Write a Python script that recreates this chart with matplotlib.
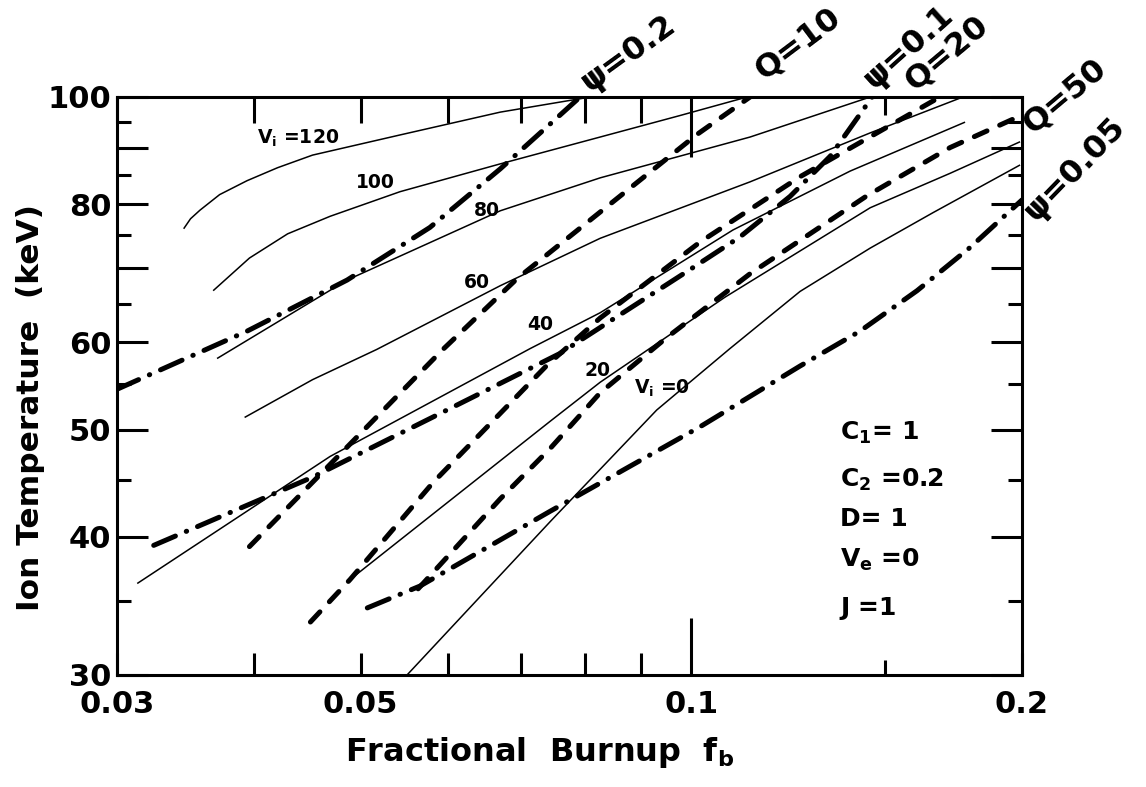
import matplotlib
matplotlib.use("Agg")
import matplotlib.pyplot as plt
from matplotlib.ticker import FixedLocator, NullFormatter, FixedFormatter

# ---------------- data ----------------
# Solid curves: constant V_i
v120_x = [0.0345, 0.0350, 0.0357, 0.0372, 0.0394, 0.0420, 0.0452, 0.0543, 0.0670, 0.0809]
v120_y = [76.0, 77.6, 79.0, 81.6, 84.0, 86.3, 88.6, 92.4, 96.9, 100.0]
v100_x = [0.0367, 0.0396, 0.0429, 0.0469, 0.0543, 0.0670, 0.0826, 0.0976, 0.1124]
v100_y = [66.8, 71.5, 75.2, 78.0, 82.1, 87.0, 92.0, 96.2, 100.0]
v80_x = [0.0370, 0.0486, 0.0670, 0.0826, 0.1131, 0.1455]
v80_y = [58.0, 68.3, 78.9, 84.5, 92.0, 100.0]
v60_x = [0.0392, 0.0452, 0.0517, 0.0670, 0.0826, 0.1131, 0.1455, 0.1767]
v60_y = [51.3, 55.5, 59.1, 67.5, 74.5, 83.8, 92.8, 100.0]
v40_x = [0.0313, 0.0469, 0.0713, 0.0826, 0.1091, 0.1395, 0.1775]
v40_y = [36.3, 47.3, 59.2, 63.8, 75.8, 85.7, 94.9]
v20_x = [0.0489, 0.0744, 0.0826, 0.1073, 0.1455, 0.1720, 0.1992]
v20_y = [36.6, 50.9, 55.2, 65.9, 79.4, 85.3, 91.1]
v0_x = [0.0551, 0.0744, 0.0930, 0.1084, 0.1256, 0.1455, 0.1660, 0.1992]
v0_y = [30.0, 41.3, 52.1, 59.2, 66.7, 73.0, 78.6, 86.8]

# Dashed curves: constant Q
q10_x = [0.0396, 0.0594, 0.0694, 0.1012, 0.1131]
q10_y = [39.2, 59.1, 68.5, 92.5, 100.0]
q20_x = [0.0450, 0.0489, 0.0582, 0.0739, 0.0826, 0.1018, 0.1256, 0.1684]
q20_y = [33.5, 36.6, 44.8, 57.2, 63.1, 73.9, 84.7, 100.0]
q50_x = [0.0564, 0.0670, 0.0744, 0.0826, 0.0950, 0.1131, 0.1445, 0.1720, 0.2000]
q50_y = [35.9, 43.3, 48.1, 54.0, 60.6, 69.2, 81.4, 90.0, 96.3]

# Dash-dot curves: constant psi
psi02_x = [0.0300, 0.0394, 0.0486, 0.0578, 0.0670, 0.0792]
psi02_y = [54.4, 61.4, 68.3, 76.2, 86.1, 100.0]
psi01_x = [0.0324, 0.0452, 0.0590, 0.0759, 0.0997, 0.1107, 0.1230, 0.1338, 0.1461]
psi01_y = [39.3, 45.3, 51.7, 58.6, 69.8, 74.7, 81.3, 88.4, 100.0]
psi005_x = [0.0507, 0.0566, 0.0744, 0.1018, 0.1256, 0.1424, 0.1605, 0.1794, 0.2000]
psi005_y = [34.5, 36.1, 42.2, 50.3, 57.1, 61.4, 66.8, 73.1, 80.7]

x_ticks = [0.03, 0.04, 0.05, 0.06, 0.07, 0.08, 0.09, 0.1, 0.15, 0.2]
x_tick_labels = ["0.03", "", "0.05", "", "", "", "", "0.1", "", "0.2"]
y_major = [30, 40, 50, 60, 70, 80, 90, 100]
y_major_labels = ["30", "40", "50", "60", "", "80", "", "100"]
y_minor = [35, 45, 55, 65, 75, 85, 95]

# ---------------- figure ----------------
plt.rcParams["font.family"] = ["DejaVu Sans"]
plt.rcParams["font.weight"] = "bold"
plt.rcParams["lines.scale_dashes"] = False

W, H = 1146, 787
fig = plt.figure(figsize=(W / 100, H / 100), dpi=100)
ax = fig.add_axes([117 / W, 1 - 675 / H, 905 / W, 578 / H])
ax.set_xscale("log")
ax.set_yscale("log")
ax.set_xlim(0.03, 0.2)
ax.set_ylim(30, 100)

thin = dict(color="black", lw=1.1, solid_capstyle="butt", solid_joinstyle="round")
dash = dict(color="black", lw=3.6, linestyle=(0, (10, 10)), dash_capstyle="round")
dashdot = dict(color="black", lw=3.6, linestyle=(0, (17, 8.5, 0.3, 8.5)),
               dash_capstyle="round")

for xs, ys in [(v120_x, v120_y), (v100_x, v100_y), (v80_x, v80_y), (v60_x, v60_y),
               (v40_x, v40_y), (v20_x, v20_y), (v0_x, v0_y)]:
    ax.plot(xs, ys, **thin)
for xs, ys in [(q10_x, q10_y), (q20_x, q20_y), (q50_x, q50_y)]:
    ax.plot(xs, ys, **dash)
for xs, ys in [(psi02_x, psi02_y), (psi01_x, psi01_y), (psi005_x, psi005_y)]:
    ax.plot(xs, ys, **dashdot)

# axes frame and ticks
for s in ax.spines.values():
    s.set_linewidth(2.2)

ax.xaxis.set_major_locator(FixedLocator(x_ticks))
ax.xaxis.set_major_formatter(FixedFormatter(x_tick_labels))
ax.xaxis.set_minor_locator(FixedLocator([]))
ax.xaxis.set_minor_formatter(NullFormatter())
ax.yaxis.set_major_locator(FixedLocator(y_major))
ax.yaxis.set_major_formatter(FixedFormatter(y_major_labels))
ax.yaxis.set_minor_locator(FixedLocator(y_minor))
ax.yaxis.set_minor_formatter(NullFormatter())

ax.tick_params(axis="both", which="both", direction="in", top=True, right=True,
               width=2.2, labelsize=22)
ax.tick_params(axis="y", which="major", length=22, pad=4)
ax.tick_params(axis="y", which="minor", length=10)
ax.tick_params(axis="x", which="major", length=16, pad=11)

for t, v in zip(ax.xaxis.get_major_ticks(), x_ticks):
    if v == 0.1:
        t.tick1line.set_markersize(41)
        t.tick2line.set_markersize(43)
    elif v == 0.15:
        t.tick1line.set_markersize(11)
        t.tick2line.set_markersize(13)
    else:
        t.tick2line.set_markersize(19)

for lab in ax.get_xticklabels() + ax.get_yticklabels():
    lab.set_fontweight("bold")

# axis titles
fig.text(31 / W, 1 - 408 / H, "Ion Temperature  (keV)", rotation=90,
         ha="center", va="center", fontsize=22.5, fontweight="bold")
fig.text(540 / W, 1 - 752 / H, r"Fractional  Burnup  f$_{\mathbf{b}}$",
         ha="center", va="center", fontsize=23, fontweight="bold")

# curve labels (inline)
inline = dict(ha="center", va="center", fontsize=13.5, fontweight="bold")
fig.text(298 / W, 1 - 138 / H, r"V$_\mathbf{i}$ =120", **inline)
fig.text(375 / W, 1 - 182 / H, "100", **inline)
fig.text(487 / W, 1 - 210 / H, "80", **inline)
fig.text(477 / W, 1 - 282 / H, "60", **inline)
fig.text(540 / W, 1 - 325 / H, "40", **inline)
fig.text(598 / W, 1 - 370 / H, "20", **inline)
fig.text(662 / W, 1 - 388 / H, r"V$_\mathbf{i}$ =0", **inline)

# parameter box
box = dict(ha="left", va="center", fontsize=18, fontweight="bold")
fig.text(840 / W, 1 - 433 / H, r"C$_\mathbf{1}$= 1", **box)
fig.text(840 / W, 1 - 480 / H, r"C$_\mathbf{2}$ =0.2", **box)
fig.text(840 / W, 1 - 519 / H, "D= 1", **box)
fig.text(840 / W, 1 - 560 / H, r"V$_\mathbf{e}$ =0", **box)
fig.text(840 / W, 1 - 608 / H, "J =1", **box)

# rotated top labels
rot = dict(ha="left", va="baseline", rotation_mode="anchor", fontsize=23,
           fontweight="bold")
fig.text(590 / W, 1 - 92 / H, "ψ=0.2", rotation=36, **rot)
fig.text(764 / W, 1 - 80 / H, "Q=10", rotation=37, **rot)
fig.text(874 / W, 1 - 90 / H, "ψ=0.1", rotation=42, **rot)
fig.text(914 / W, 1 - 92 / H, "Q=20", rotation=40, **rot)
fig.text(1032 / W, 1 - 135 / H, "Q=50", rotation=40, **rot)
fig.text(1036 / W, 1 - 222 / H, "ψ=0.05", rotation=46, **rot)

fig.savefig("out.png", dpi=100, facecolor="white")
